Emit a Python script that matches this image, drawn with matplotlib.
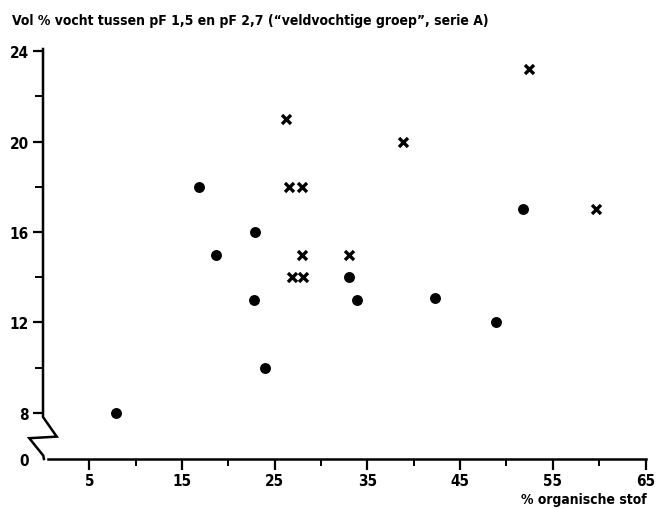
import matplotlib.pyplot as plt
from matplotlib.ticker import FixedLocator

plt.rcParams['font.family'] = ['DejaVu Sans']
plt.rcParams['font.stretch'] = 'condensed'
plt.rcParams['font.weight'] = 'bold'

# % organische stof vs vol % vocht, two groups
dots_x = [7.9, 16.8, 18.7, 22.9, 22.8, 23.9, 33.0, 33.9, 42.3, 48.9, 51.8]
dots_y = [8, 18, 15, 16, 13, 10, 14, 13, 13.1, 12, 17]
cross_x = [26.2, 26.5, 27.9, 27.9, 26.9, 28.1, 33.0, 38.8, 52.4, 59.7]
cross_y = [21, 18, 18, 15, 14, 14, 15, 20, 23.2, 17]

x_major = [5, 15, 25, 35, 45, 55, 65]
x_minor = [10, 20, 30, 40, 50, 60]
y_major = [8, 12, 16, 20, 24]
y_minor = [10, 14, 18, 22]
y_zero = 5.96  # where the "0" sits below the axis break

fig = plt.figure(figsize=(6.56, 5.10), dpi=100)
ax = fig.add_axes([43 / 656, 50 / 510, (646 - 43) / 656, 410 / 510])
ax.set_xlim(0, 65.05)
ax.set_ylim(y_zero, 24.1)

ax.scatter(dots_x, dots_y, s=62, c='black', marker='o', linewidths=0, clip_on=False)
ax.scatter(cross_x, cross_y, s=42, c='black', marker='x', linewidths=2.4, clip_on=False)

for s in ['top', 'right', 'left']:
    ax.spines[s].set_visible(False)
ax.spines['bottom'].set_bounds(0.55, 65.05)
ax.spines['bottom'].set_linewidth(1.8)

# y axis with zigzag break between 0 and 8
bx = [0, 0, 1.48, -1.48, 0.03, 0.1]
by = [24.1, 7.82, 6.95, 6.88, 6.11, y_zero]
ax.plot(bx, by, color='black', lw=1.8, clip_on=False, solid_joinstyle='miter')

ax.xaxis.set_major_locator(FixedLocator(x_major))
ax.xaxis.set_minor_locator(FixedLocator(x_minor))
ax.set_xticklabels([str(v) for v in x_major])
ax.tick_params(axis='x', which='major', direction='out', length=8, width=1.6,
               labelsize=11, pad=2)
ax.tick_params(axis='x', which='minor', direction='out', length=5, width=1.4)

ax.yaxis.set_major_locator(FixedLocator([y_zero] + y_major))
ax.yaxis.set_minor_locator(FixedLocator(y_minor))
ax.set_yticklabels(['0'] + [str(v) for v in y_major])
ax.tick_params(axis='y', which='major', direction='out', length=7, width=1.6,
               labelsize=11, pad=3)
ax.tick_params(axis='y', which='minor', direction='out', length=6, width=1.4)
ax.yaxis.get_major_ticks()[0].tick1line.set_visible(False)

fig.text(12 / 656, 1 - 25 / 510, 'Vol % vocht tussen pF 1,5 en pF 2,7 (\u201cveldvochtige groep\u201d, serie A)',
         fontsize=10, fontweight='bold', ha='left', va='baseline')
fig.text(647 / 656, 1 - 504 / 510, '% organische stof', fontsize=10, fontweight='bold',
         ha='right', va='baseline')

fig.savefig('out.png', dpi=100)
